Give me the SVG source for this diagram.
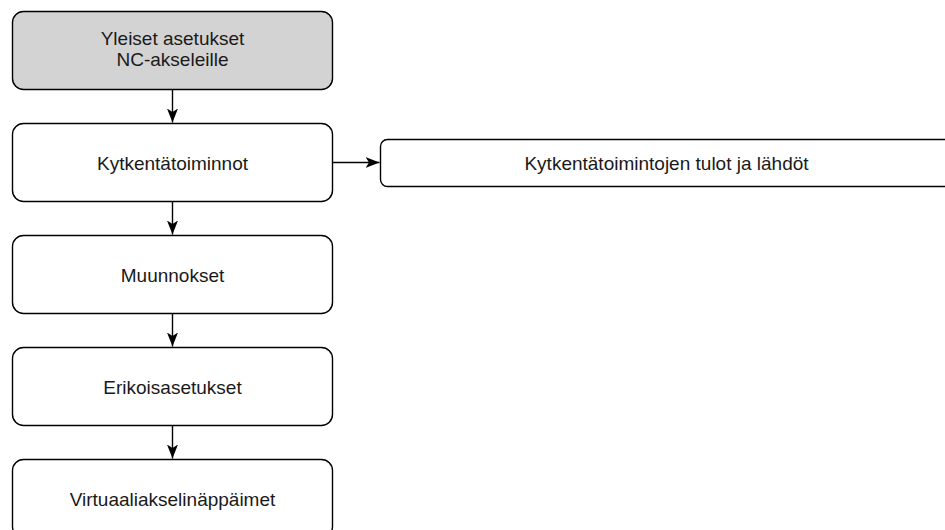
<svg xmlns="http://www.w3.org/2000/svg" width="945" height="530" viewBox="0 0 945 530">
<defs>
<style>
.box{fill:#ffffff;stroke:#000000;stroke-width:1.4}
.gray{fill:#d3d3d3}
.lbl{font-family:"Liberation Sans",Arial,Helvetica,sans-serif;font-size:19px;fill:#1a1a1a;text-anchor:middle}
.conn{stroke:#000000;stroke-width:1.4;fill:none}
</style>
<marker id="arr" viewBox="0 0 14 11" refX="14" refY="5.5" markerWidth="14" markerHeight="11" markerUnits="userSpaceOnUse" orient="auto">
<path d="M0,0 L14,5.5 L0,11 L3.5,5.5 Z" fill="#000000"/>
</marker>
</defs>
<rect width="945" height="530" fill="#ffffff"/>
<g id="connectors">
<line class="conn" x1="172.5" y1="89.5" x2="172.5" y2="122.5" marker-end="url(#arr)"/>
<line class="conn" x1="172.5" y1="201.5" x2="172.5" y2="234.5" marker-end="url(#arr)"/>
<line class="conn" x1="172.5" y1="313.5" x2="172.5" y2="346.5" marker-end="url(#arr)"/>
<line class="conn" x1="172.5" y1="425.5" x2="172.5" y2="458.5" marker-end="url(#arr)"/>
<line class="conn" x1="332.5" y1="162.5" x2="379.5" y2="162.5" marker-end="url(#arr)"/>
</g>
<g id="n1">
<rect class="box gray" x="12.5" y="11.5" width="320" height="78" rx="11" ry="11"/>
<text class="lbl" x="172.5" y="45">Yleiset asetukset</text>
<text class="lbl" x="172.5" y="66">NC-akseleille</text>
</g>
<g id="n2">
<rect class="box" x="12.5" y="123.5" width="320" height="78" rx="11" ry="11"/>
<text class="lbl" x="172.5" y="170">Kytkentätoiminnot</text>
</g>
<g id="n3">
<rect class="box" x="12.5" y="235.5" width="320" height="78" rx="11" ry="11"/>
<text class="lbl" x="172.5" y="282">Muunnokset</text>
</g>
<g id="n4">
<rect class="box" x="12.5" y="347.5" width="320" height="78" rx="11" ry="11"/>
<text class="lbl" x="172.5" y="394">Erikoisasetukset</text>
</g>
<g id="n5">
<rect class="box" x="12.5" y="459.5" width="320" height="78" rx="11" ry="11"/>
<text class="lbl" x="172.5" y="506">Virtuaaliakselinäppäimet</text>
</g>
<g id="n6">
<rect class="box" x="380.5" y="139.5" width="572" height="47" rx="7" ry="7"/>
<text class="lbl" x="666.5" y="170">Kytkentätoimintojen tulot ja lähdöt</text>
</g>
</svg>
